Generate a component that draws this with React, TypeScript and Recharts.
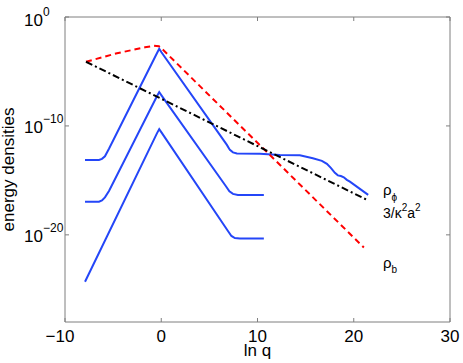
import React from 'react';
import { LineChart, Line, XAxis, YAxis, ReferenceArea } from 'recharts';

// ln q positions and log10(energy density)
const phiHighLnq = [-7.92, -6.47, -6.16, -5.85, -5.43, -0.45, -0.21, 0.02, 6.82, 7.13, 7.45, 7.86, 10.25, 12.33, 14.4, 15.75, 16.69, 17.21, 17.62, 18.04, 18.35, 18.66, 18.97, 19.28, 19.6, 21.5];
const phiHighLog = [-13.12, -13.12, -13.02, -12.79, -12.1, -3.33, -2.91, -3.24, -11.74, -12.2, -12.43, -12.52, -12.56, -12.66, -12.7, -12.96, -13.21, -13.48, -13.85, -14.31, -14.54, -14.6, -14.72, -14.95, -15.11, -16.33];

const phiMidLnq = [-7.92, -6.47, -6.16, -5.85, -5.43, -0.45, -0.21, 0.02, 6.72, 7.08, 7.45, 7.96, 10.66];
const phiMidLog = [-16.95, -16.95, -16.84, -16.56, -15.97, -7.28, -6.89, -7.19, -15.54, -16.01, -16.24, -16.33, -16.33];

const phiLowLnq = [-7.92, -0.45, -0.21, 0.02, 6.93, 7.29, 7.65, 8.17, 10.66];
const phiLowLog = [-24.3, -10.68, -10.29, -10.59, -19.64, -20.1, -20.29, -20.33, -20.33];

const rhoBLnq = [-7.82, -4.6, -1.69, -0.76, -0.24, 0.18, 21.05];
const rhoBLog = [-4.11, -3.33, -2.78, -2.64, -2.68, -3.01, -21.16];

const curvLnq = [-7.82, 21.5];
const curvLog = [-4.11, -16.84];

const xTicks = [-10, 0, 10, 20, 30];
const yTicks = [1e-20, 1e-10, 1];

const toPoints = (xs: number[], logs: number[]) => xs.map((x, i) => ({ x, y: Math.pow(10, logs[i]) }));

const phiHigh = toPoints(phiHighLnq, phiHighLog);
const phiMid = toPoints(phiMidLnq, phiMidLog);
const phiLow = toPoints(phiLowLnq, phiLowLog);
const rhoB = toPoints(rhoBLnq, rhoBLog);
const curv = toPoints(curvLnq, curvLog);

const W = 463;
const H = 363;
const LEFT = 65;
const RIGHT = 450;
const TOP = 17;
const BOTTOM = 322;
const FONT = '"Liberation Sans", Arial, Helvetica, sans-serif';
const AXIS = '#7f7f7f';

const XTick = (props: any) => {
  const { x, payload } = props;
  const v = payload.value;
  // minus sign hangs to the left of the centred digits
  return (
    <g>
      <line x1={x} x2={x} y1={BOTTOM} y2={BOTTOM - 4} stroke={AXIS} />
      <line x1={x} x2={x} y1={TOP} y2={TOP + 4} stroke={AXIS} />
      <text x={v < 0 ? x - 5 : x} y={341.5} textAnchor="middle" fontSize={17} fontFamily={FONT} fill="#000">
        {v < 0 ? '\u2212' + Math.abs(v) : v}
      </text>
    </g>
  );
};

const YTick = (props: any) => {
  const { y, payload } = props;
  const exp = Math.round(Math.log10(payload.value));
  const expStr = exp < 0 ? '\u2212' + Math.abs(exp) : String(exp);
  const base = y + (exp === 0 ? 9 : 7);
  return (
    <g>
      <line x1={LEFT} x2={LEFT + 4} y1={y} y2={y} stroke={AXIS} />
      <line x1={RIGHT} x2={RIGHT - 4} y1={y} y2={y} stroke={AXIS} />
      <text x={43} y={base} textAnchor="end" fontSize={17} fontFamily={FONT} fill="#000">10</text>
      <text x={43} y={base - 10} textAnchor="start" fontSize={12} fontFamily={FONT} fill="#000">{expStr}</text>
    </g>
  );
};

export default function App() {
  return (
    <div style={{ position: 'absolute', left: 0, top: 0, width: W, height: H, background: '#fff' }}>
      <LineChart width={W} height={H} margin={{ top: TOP, right: W - RIGHT, bottom: 0, left: 0 }}>
        <ReferenceArea x1={-10} x2={30} y1={1e-28} y2={1} fill="none" stroke={AXIS} strokeWidth={1} />
        <XAxis
          type="number"
          dataKey="x"
          domain={[-10, 30]}
          ticks={xTicks}
          height={H - BOTTOM}
          axisLine={false}
          tickLine={false}
          tickSize={0}
          tickMargin={0}
          tick={<XTick />}
          interval={0}
          allowDataOverflow
        />
        <YAxis
          type="number"
          dataKey="y"
          scale="log"
          domain={[1e-28, 1]}
          ticks={yTicks}
          width={LEFT}
          axisLine={false}
          tickLine={false}
          tickSize={0}
          tickMargin={0}
          tick={<YTick />}
          interval={0}
          allowDataOverflow
        />
        <Line data={phiHigh} dataKey="y" stroke="#2446f8" strokeWidth={2} dot={false} isAnimationActive={false} />
        <Line data={phiMid} dataKey="y" stroke="#2446f8" strokeWidth={2} dot={false} isAnimationActive={false} />
        <Line data={phiLow} dataKey="y" stroke="#2446f8" strokeWidth={2} dot={false} isAnimationActive={false} />
        <Line data={rhoB} dataKey="y" stroke="#ff0000" strokeWidth={2} strokeDasharray="6 4" dot={false} isAnimationActive={false} />
        <Line data={curv} dataKey="y" stroke="#000" strokeWidth={2} strokeDasharray="7 3 2 3" dot={false} isAnimationActive={false} />
        <text x={(LEFT + RIGHT) / 2} y={356} textAnchor="middle" fontSize={17} fontFamily={FONT} fill="#000">ln q</text>
        <text x={14} y={(TOP + BOTTOM) / 2} textAnchor="middle" fontSize={17} fontFamily={FONT} fill="#000" transform={`rotate(-90 14 ${(TOP + BOTTOM) / 2})`}>energy densities</text>
        <text x={383} y={195} fontSize={15} fontFamily={FONT} fill="#000">
          ρ<tspan fontSize={10} dy={6}>ϕ</tspan>
        </text>
        <text x={383} y={218} fontSize={14} fontFamily={FONT} fill="#000">
          3/κ<tspan fontSize={10} dy={-7}>2</tspan><tspan dy={7}>a</tspan><tspan fontSize={10} dy={-7}>2</tspan>
        </text>
        <text x={383} y={268} fontSize={15} fontFamily={FONT} fill="#000">
          ρ<tspan fontSize={10} dy={5}>b</tspan>
        </text>
      </LineChart>
    </div>
  );
}
